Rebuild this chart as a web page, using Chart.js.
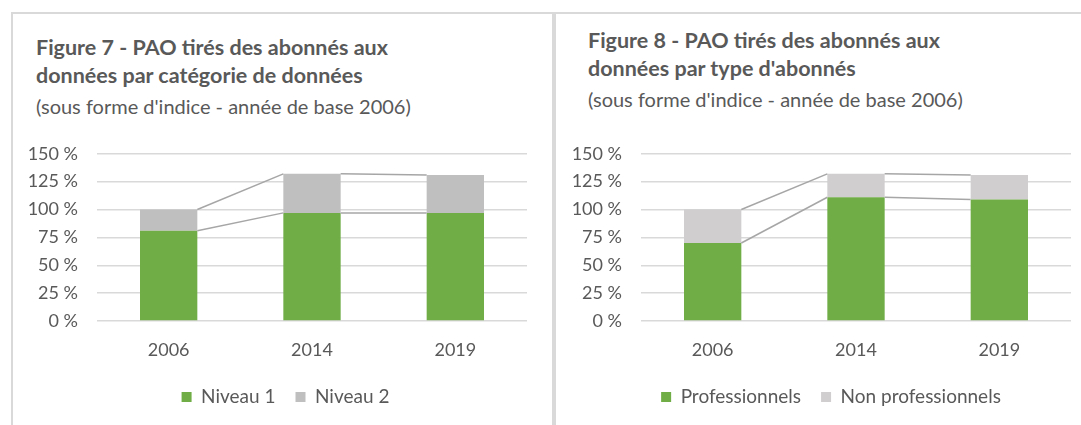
<!DOCTYPE html>
<html>
<head>
<meta charset="utf-8">
<script src="https://cdn.jsdelivr.net/npm/chart.js@4.4.1/dist/chart.umd.min.js"></script>
<style>
  body { margin: 0; background: #fff; width: 1081px; height: 425px; overflow: hidden; position: relative; font-family: Lato, sans-serif; }
  .panel { position: absolute; top: 12px; height: 420px; border-top: 2px solid #d9d9d9; box-sizing: border-box; }
  #p1 { left: 11px; width: 543px; border-left: 2px solid #d9d9d9; border-right: 2px solid #d9d9d9; }
  #p2 { left: 554px; width: 540px; border-left: 2px solid #d9d9d9; }
  .title { position: absolute; color: #595959; white-space: nowrap; }
  .title b { display: block; font-size: 21.5px; line-height: 28px; font-weight: 700; }
  .title span { display: block; font-size: 20px; line-height: 28px; margin-top: 3px; }
  .box { position: absolute; top: 124px; height: 298px; }
</style>
</head>
<body>
<div class="panel" id="p1"></div>
<div class="panel" id="p2"></div>

<div class="title" style="left:36px; top:33px;">
  <b>Figure 7 - PAO tirés des abonnés aux</b>
  <b>données par catégorie de données</b>
  <span>(sous forme d'indice - année de base 2006)</span>
</div>
<div class="title" style="left:588px; top:26px;">
  <b>Figure 8 - PAO tirés des abonnés aux</b>
  <b>données par type d'abonnés</b>
  <span>(sous forme d'indice - année de base 2006)</span>
</div>

<div class="box" style="left:13px; width:539px;"><canvas id="fig7"></canvas></div>
<div class="box" style="left:557px; width:524px;"><canvas id="fig8"></canvas></div>

<script>
// données (indice, base 2006 = 100 %)
const years = ["2006", "2014", "2019"];

const niveau1 = [81, 97, 97];
const niveau2 = [19, 35, 34];

const professionnels = [70, 111, 109];
const nonProfessionnels = [30, 21, 22];

const yTicks = [0, 25, 50, 75, 100, 125, 150];

const green = "#70AD47";
const textColor = "#595959";

// lignes de séries comme dans Excel (relie le haut de chaque segment)
const seriesLines = {
  id: "seriesLines",
  afterDatasetsDraw(chart) {
    const ctx = chart.ctx;
    ctx.save();
    ctx.strokeStyle = "#A6A6A6";
    ctx.lineWidth = 1.5;
    chart.data.datasets.forEach((ds, d) => {
      const bars = chart.getDatasetMeta(d).data;
      for (let i = 0; i < bars.length - 1; i++) {
        const a = bars[i].getProps(["x", "y", "width"], true);
        const b = bars[i + 1].getProps(["x", "y", "width"], true);
        ctx.beginPath();
        ctx.moveTo(a.x + a.width / 2, a.y);
        ctx.lineTo(b.x - b.width / 2, b.y);
        ctx.stroke();
      }
    });
    ctx.restore();
  }
};

// décale un peu la légende vers la droite (centrée sur le cadre dans l'original)
const legendShift = {
  id: "legendShift",
  afterLayout(chart, args, opts) {
    if (chart.legend) {
      chart.legend.left += opts.dx;
      chart.legend.right += opts.dx;
    }
  }
};

function makeChart(id, labelA, dataA, labelB, dataB, greyColor, legendDx) {
  new Chart(document.getElementById(id), {
    type: "bar",
    data: {
      labels: years,
      datasets: [
        { label: labelA, data: dataA, backgroundColor: green, barPercentage: 0.4, categoryPercentage: 1 },
        { label: labelB, data: dataB, backgroundColor: greyColor, barPercentage: 0.4, categoryPercentage: 1 }
      ]
    },
    options: {
      responsive: true,
      maintainAspectRatio: false,
      animation: false,
      layout: { padding: { left: 15, right: id === "fig7" ? 25 : 10, top: 7, bottom: 5.5 } },
      plugins: {
        legend: {
          position: "bottom",
          labels: { color: textColor, boxWidth: 10, boxHeight: 10, padding: 20, font: { size: 19 } }
        },
        legendShift: { dx: legendDx },
        tooltip: { enabled: false }
      },
      scales: {
        x: {
          stacked: true,
          afterFit: scale => { scale.height = 46.5; },
          grid: { display: false, drawTicks: false },
          border: { display: false },
          ticks: { color: textColor, padding: 18, font: { size: 18 } }
        },
        y: {
          stacked: true,
          min: 0,
          max: 150,
          afterBuildTicks: scale => { scale.ticks = yTicks.map(v => ({ value: v })); },
          afterFit: scale => { scale.width = 69; },
          grid: { color: "#D9D9D9", lineWidth: 1.5, drawTicks: false },
          border: { display: false },
          ticks: { color: textColor, padding: 19, font: { size: 18 }, callback: v => v + " %" }
        }
      }
    },
    plugins: [seriesLines, legendShift]
  });
}

Chart.defaults.font.family = "Lato";

document.fonts.load("16px Lato").then(() => {
  makeChart("fig7", "Niveau 1", niveau1, "Niveau 2", niveau2, "#BFBFBF", 8);
  makeChart("fig8", "Professionnels", professionnels, "Non professionnels", nonProfessionnels, "#D0CECE", 9.5);
});
</script>
</body>
</html>
